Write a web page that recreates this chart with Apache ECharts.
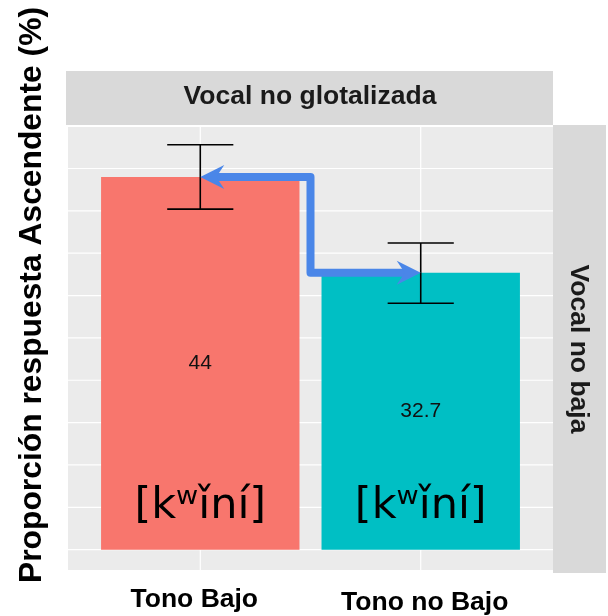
<!DOCTYPE html>
<html><head><meta charset="utf-8">
<script src="https://cdn.jsdelivr.net/npm/echarts@6/dist/echarts.min.js"></script>
<style>html,body{margin:0;padding:0;background:#fff}#c{width:608px;height:616px}</style>
</head><body><div id="c"></div>
<script>
// ---- data ----
const categories = ['Tono Bajo', 'Tono no Bajo'];
const categoryPos = [1, 2];
const values = [44, 32.7];
const valueLabels = ['44', '32.7'];
const errLow = [40.2, 29.1];
const errHigh = [47.8, 36.2];
const ipaLabels = ['[kʷǐní]', '[kʷǐní]'];
const ipaLabelY = [5.0, 5.0];
const gridYValues = [0, 5, 10, 15, 20, 25, 30, 35, 40, 45];
const arrowPath = [[2, 32.7], [1.5, 32.7], [1.5, 44], [1, 44]];
const facetTop = 'Vocal no glotalizada';
const facetRight = 'Vocal no baja';
const yTitle = 'Proporción respuesta Ascendente (%)';

// ---- style ----
const barColors = ['#F8766D', '#00BFC4'];
const X_MIN = 0.4, X_MAX = 2.6, Y_MIN = -2.4, Y_MAX = 49.9;
const BAR_HALF = 0.45, CAP_HALF = 0.15;
const SANS = '"Liberation Sans", Arial, sans-serif';

const chart = echarts.init(document.getElementById('c'), null, {renderer: 'canvas'});

function renderGridH(params, api) {
  const v = api.value(0);
  const a = api.coord([X_MIN, v]), b = api.coord([X_MAX, v]);
  return {type: 'line', shape: {x1: a[0], y1: a[1], x2: b[0], y2: b[1]}, style: {stroke: '#FFFFFF', lineWidth: 1.2}};
}
function renderGridV(params, api) {
  const x = api.value(0);
  const a = api.coord([x, Y_MIN]), b = api.coord([x, Y_MAX]);
  return {type: 'line', shape: {x1: a[0], y1: a[1], x2: b[0], y2: b[1]}, style: {stroke: '#FFFFFF', lineWidth: 1.2}};
}
function renderBar(params, api) {
  const i = params.dataIndex;
  const x = api.value(0), v = api.value(1);
  const tl = api.coord([x - BAR_HALF, v]);
  const br = api.coord([x + BAR_HALF, 0]);
  const mid = api.coord([x, v / 2]);
  return {type: 'group', children: [
    {type: 'rect', shape: {x: tl[0], y: tl[1], width: br[0] - tl[0], height: br[1] - tl[1]}, style: {fill: barColors[i]}},
    {type: 'text', x: mid[0], y: mid[1], style: {text: valueLabels[i], fill: '#111', font: '21px ' + SANS, align: 'center', verticalAlign: 'middle'}}
  ]};
}
function renderErr(params, api) {
  const x = api.value(0), lo = api.value(1), hi = api.value(2);
  const t = api.coord([x, hi]), b = api.coord([x, lo]);
  const tl = api.coord([x - CAP_HALF, hi]), tr = api.coord([x + CAP_HALF, hi]);
  const bl = api.coord([x - CAP_HALF, lo]), brr = api.coord([x + CAP_HALF, lo]);
  const st = {stroke: '#000', lineWidth: 1.6};
  return {type: 'group', children: [
    {type: 'line', shape: {x1: t[0], y1: t[1], x2: b[0], y2: b[1]}, style: st},
    {type: 'line', shape: {x1: tl[0], y1: tl[1], x2: tr[0], y2: tr[1]}, style: st},
    {type: 'line', shape: {x1: bl[0], y1: bl[1], x2: brr[0], y2: brr[1]}, style: st}
  ]};
}
function renderIpa(params, api) {
  const i = params.dataIndex;
  const p = api.coord([api.value(0), api.value(1)]);
  return {type: 'text', x: p[0], y: p[1], style: {text: ipaLabels[i], fill: '#000', font: '43px "DejaVu Sans", sans-serif', align: 'center', verticalAlign: 'middle'}};
}
function renderArrow(params, api) {
  const pts = arrowPath.map(p => api.coord(p));
  const HEAD_L = 24, HEAD_W = 12, NOTCH = 16, CUT = 14;
  function back(from, tip, d) {
    const dx = tip[0] - from[0], dy = tip[1] - from[1], L = Math.hypot(dx, dy);
    return [tip[0] - dx / L * d, tip[1] - dy / L * d];
  }
  function head(from, tip) {
    const dx = tip[0] - from[0], dy = tip[1] - from[1], L = Math.hypot(dx, dy);
    const ux = dx / L, uy = dy / L, nx = -uy, ny = ux;
    return {type: 'polygon', shape: {points: [
      tip,
      [tip[0] - ux * HEAD_L + nx * HEAD_W, tip[1] - uy * HEAD_L + ny * HEAD_W],
      [tip[0] - ux * NOTCH, tip[1] - uy * NOTCH],
      [tip[0] - ux * HEAD_L - nx * HEAD_W, tip[1] - uy * HEAD_L - ny * HEAD_W]
    ]}, style: {fill: '#4A86E8'}};
  }
  const n = pts.length;
  const line = pts.slice();
  line[0] = back(pts[1], pts[0], CUT);
  line[n - 1] = back(pts[n - 2], pts[n - 1], CUT);
  return {type: 'group', children: [
    {type: 'polyline', shape: {points: line}, style: {stroke: '#4A86E8', lineWidth: 8, lineJoin: 'round', fill: null}},
    head(pts[1], pts[0]),
    head(pts[n - 2], pts[n - 1])
  ]};
}

const option = {
  animation: false,
  backgroundColor: '#FFFFFF',
  grid: {left: 68, top: 127, right: 55, bottom: 43, show: true, backgroundColor: '#EBEBEB', borderWidth: 0},
  xAxis: {
    type: 'value', min: X_MIN, max: X_MAX,
    axisLine: {show: false},
    splitLine: {show: false},
    axisTick: {show: false},
    axisLabel: {
      customValues: categoryPos,
      formatter: v => {
        const i = categoryPos.indexOf(v);
        return i === 0 ? '{a|' + categories[0] + '}' : i === 1 ? '{b|' + categories[1] + '}' : '';
      },
      color: '#000', fontWeight: 'bold', fontSize: 26.5, fontFamily: SANS, margin: 16,
      rich: {
        a: {color: '#000', fontWeight: 'bold', fontSize: 26.5, fontFamily: SANS, padding: [0, 12, 0, 0]},
        b: {color: '#000', fontWeight: 'bold', fontSize: 26.5, fontFamily: SANS, padding: [3, 0, 0, 8]}
      }
    }
  },
  yAxis: {
    type: 'value', min: Y_MIN, max: Y_MAX,
    axisLine: {show: false}, axisTick: {show: false}, axisLabel: {show: false}, splitLine: {show: false}
  },
  graphic: [
    {type: 'rect', left: 66, top: 71, shape: {width: 487, height: 54}, style: {fill: '#D9D9D9'}},
    {type: 'rect', left: 553, top: 125, shape: {width: 53, height: 448}, style: {fill: '#D9D9D9'}},
    {type: 'text', x: 310, y: 97, style: {text: facetTop, fill: '#1A1A1A', font: 'bold 26.5px ' + SANS, align: 'center', verticalAlign: 'middle'}},
    {type: 'text', x: 578, y: 349, rotation: -Math.PI / 2, style: {text: facetRight, fill: '#1A1A1A', font: 'bold 26.5px ' + SANS, align: 'center', verticalAlign: 'middle'}},
    {type: 'text', x: 32, y: 295, rotation: Math.PI / 2, style: {text: yTitle, fill: '#000', font: 'bold 31.8px ' + SANS, align: 'center', verticalAlign: 'middle'}}
  ],
  series: [
    {type: 'custom', z: 1, renderItem: renderGridH, data: gridYValues.map(v => [v]), silent: true},
    {type: 'custom', z: 1, renderItem: renderGridV, data: categoryPos.map(x => [x]), silent: true},
    {type: 'custom', z: 2, renderItem: renderBar, data: categoryPos.map((x, i) => [x, values[i]])},
    {type: 'custom', z: 3, renderItem: renderIpa, data: categoryPos.map((x, i) => [x, ipaLabelY[i]])},
    {type: 'custom', z: 4, renderItem: renderErr, data: categoryPos.map((x, i) => [x, errLow[i], errHigh[i]])},
    {type: 'custom', z: 5, renderItem: renderArrow, data: [[0]]}
  ]
};
chart.setOption(option);
</script></body></html>
